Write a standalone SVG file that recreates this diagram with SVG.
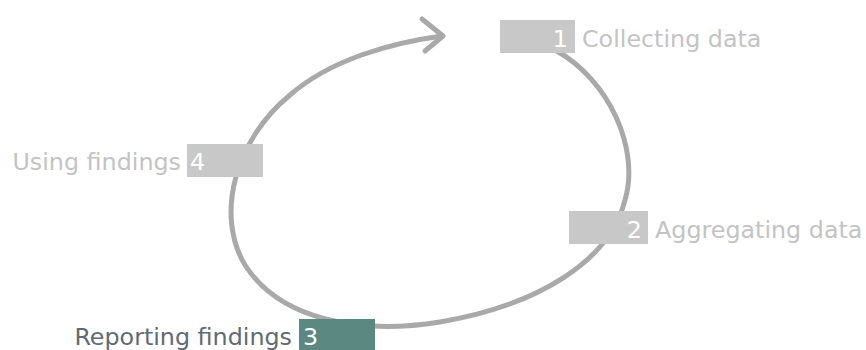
<svg xmlns="http://www.w3.org/2000/svg" width="866" height="350" viewBox="0 0 866 350">
  <style>
    .loop { fill: none; stroke: #a9a9a9; stroke-width: 5; stroke-linecap: round; stroke-linejoin: round; }
    .box { fill: #c8c8c8; }
    .box.active { fill: #5b8982; }
    .num { font-family: "DejaVu Sans", Verdana, sans-serif; font-size: 23.8px; fill: #ffffff; }
    .lbl { font-family: "DejaVu Sans", Verdana, sans-serif; font-size: 23.8px; fill: #c3c3c3; }
    .lbl.active { fill: #5f6a74; }
    .end { text-anchor: end; }
  </style>
  <rect width="866" height="350" fill="#ffffff"/>
  <g id="connectors">
    <path class="loop" d="M 555 50 C 610 80, 640 150, 625 200 C 610 260, 540 305, 440 322 C 360 335, 280 320, 245 265 C 215 215, 235 140, 290 95 C 330 60, 390 43, 442 36"/>
    <polyline class="loop" points="422,19 443,36 425,51"/>
  </g>
  <g id="step1">
    <rect class="box" x="500" y="20" width="75" height="33"/>
    <text class="num end" x="568" y="47">1</text>
    <text class="lbl" x="582" y="47">Collecting data</text>
  </g>
  <g id="step2">
    <rect class="box" x="569" y="211" width="79" height="33"/>
    <text class="num end" x="642" y="238">2</text>
    <text class="lbl" x="655" y="238">Aggregating data</text>
  </g>
  <g id="step3">
    <rect class="box active" x="299" y="319" width="76" height="31"/>
    <text class="num" x="303" y="345">3</text>
    <text class="lbl active end" x="292" y="345">Reporting findings</text>
  </g>
  <g id="step4">
    <rect class="box" x="187" y="144" width="76" height="33"/>
    <text class="num" x="190" y="170">4</text>
    <text class="lbl end" x="181" y="170">Using findings</text>
  </g>
</svg>
